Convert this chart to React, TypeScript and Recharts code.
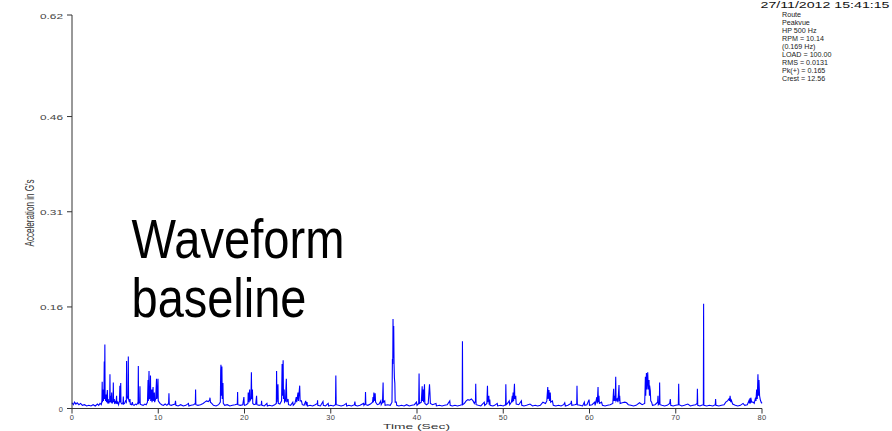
import React from "react"
import { LineChart, Line, XAxis, YAxis } from "recharts"

// Peakvue acceleration waveform, [seconds, G's] pairs in 10 s windows
const sec0to10: [number, number][] = [
  [0, 0.009], [0.15, 0.006], [0.3, 0.01], [0.45, 0.007], [0.6, 0.009], [0.8, 0.006], [1.0, 0.008],
  [1.2, 0.005], [1.45, 0.006], [1.7, 0.004], [1.95, 0.005], [2.2, 0.004], [2.45, 0.006], [2.7, 0.004],
  [2.95, 0.007], [3.1, 0.005], [3.25, 0.008], [3.4, 0.006], [3.47, 0.012], [3.5, 0.042], [3.53, 0.01],
  [3.6, 0.03], [3.64, 0.012], [3.7, 0.02], [3.74, 0.074], [3.77, 0.015], [3.81, 0.101], [3.84, 0.02],
  [3.9, 0.012], [3.95, 0.022], [4.0, 0.01], [4.1, 0.029], [4.14, 0.008], [4.2, 0.015], [4.25, 0.008],
  [4.37, 0.012], [4.4, 0.054], [4.43, 0.01], [4.5, 0.02], [4.55, 0.009], [4.6, 0.025], [4.64, 0.008],
  [4.76, 0.012], [4.79, 0.041], [4.82, 0.01], [4.9, 0.015], [4.95, 0.007], [5.05, 0.012], [5.1, 0.008],
  [5.17, 0.02], [5.2, 0.007], [5.3, 0.01], [5.4, 0.006], [5.5, 0.012], [5.55, 0.036], [5.58, 0.01],
  [5.65, 0.04], [5.68, 0.009], [5.8, 0.007], [5.92, 0.01], [5.95, 0.019], [5.98, 0.007], [6.1, 0.008],
  [6.2, 0.012], [6.3, 0.01], [6.33, 0.075], [6.36, 0.02], [6.5, 0.015], [6.53, 0.082], [6.56, 0.015],
  [6.65, 0.01], [6.72, 0.015], [6.76, 0.007], [6.9, 0.006], [7.0, 0.01], [7.05, 0.006], [7.2, 0.005],
  [7.35, 0.007], [7.5, 0.006], [7.66, 0.01], [7.69, 0.067], [7.72, 0.008], [7.85, 0.01], [7.88, 0.035],
  [7.91, 0.007], [8.05, 0.006], [8.25, 0.005], [8.45, 0.007], [8.6, 0.006], [8.75, 0.01], [8.82, 0.045],
  [8.85, 0.012], [8.93, 0.059], [8.96, 0.015], [9.05, 0.018], [9.1, 0.052], [9.13, 0.012], [9.25, 0.03],
  [9.28, 0.01], [9.4, 0.034], [9.43, 0.012], [9.55, 0.025], [9.58, 0.01], [9.7, 0.015], [9.8, 0.047],
  [9.83, 0.015], [9.9, 0.02], [9.97, 0.047], [10.0, 0.012],
]

const sec10to20: [number, number][] = [
  [10.2, 0.008], [10.4, 0.006], [10.6, 0.005], [10.8, 0.007], [11.0, 0.005], [11.2, 0.008], [11.24, 0.024],
  [11.28, 0.006], [11.5, 0.005], [11.7, 0.006], [11.95, 0.007], [12.0, 0.012], [12.05, 0.005], [12.3, 0.004],
  [12.6, 0.006], [12.9, 0.004], [13.2, 0.005], [13.5, 0.008], [13.55, 0.004], [13.8, 0.005], [14.1, 0.006],
  [14.3, 0.008], [14.33, 0.03], [14.36, 0.006], [14.6, 0.005], [14.9, 0.006], [15.2, 0.008], [15.4, 0.01],
  [15.6, 0.012], [15.8, 0.011], [15.95, 0.013], [16.0, 0.017], [16.05, 0.01], [16.2, 0.008], [16.4, 0.005],
  [16.7, 0.004], [17.0, 0.006], [17.2, 0.01], [17.24, 0.06], [17.27, 0.069], [17.31, 0.02], [17.38, 0.066],
  [17.42, 0.015], [17.5, 0.04], [17.54, 0.008], [17.7, 0.005], [18.0, 0.006], [18.3, 0.004], [18.6, 0.005],
  [18.9, 0.006], [19.17, 0.007], [19.2, 0.026], [19.23, 0.006], [19.5, 0.005], [19.8, 0.006], [19.93, 0.018],
  [19.97, 0.006], [20.0, 0.005],
]

const sec20to30: [number, number][] = [
  [20.2, 0.006], [20.4, 0.008], [20.43, 0.025], [20.47, 0.01], [20.6, 0.03], [20.63, 0.012], [20.75, 0.015],
  [20.8, 0.057], [20.84, 0.015], [20.92, 0.03], [20.96, 0.008], [21.1, 0.006], [21.3, 0.007], [21.4, 0.02],
  [21.44, 0.006], [21.7, 0.005], [21.95, 0.006], [21.98, 0.012], [22.02, 0.005], [22.3, 0.004], [22.6, 0.008],
  [22.65, 0.004], [22.9, 0.005], [23.2, 0.004], [23.5, 0.006], [23.69, 0.008], [23.72, 0.059], [23.76, 0.01],
  [23.88, 0.038], [23.92, 0.008], [24.1, 0.007], [24.3, 0.012], [24.36, 0.07], [24.4, 0.02], [24.48, 0.076],
  [24.52, 0.015], [24.6, 0.03], [24.64, 0.01], [24.75, 0.012], [24.85, 0.047], [24.9, 0.01], [25.05, 0.015],
  [25.1, 0.006], [25.35, 0.005], [25.6, 0.01], [25.65, 0.005], [25.85, 0.008], [26.0, 0.018], [26.05, 0.01],
  [26.2, 0.025], [26.25, 0.012], [26.4, 0.036], [26.45, 0.012], [26.6, 0.012], [26.7, 0.006], [26.9, 0.005],
  [27.1, 0.012], [27.15, 0.005], [27.25, 0.01], [27.3, 0.004], [27.6, 0.005], [27.9, 0.004], [28.2, 0.006],
  [28.45, 0.008], [28.47, 0.013], [28.5, 0.005], [28.8, 0.004], [29.1, 0.011], [29.14, 0.005], [29.4, 0.004],
  [29.7, 0.008], [29.75, 0.004], [30.0, 0.005],
]

const sec30to40: [number, number][] = [
  [30.3, 0.004], [30.55, 0.006], [30.59, 0.052], [30.63, 0.006], [30.9, 0.005], [31.2, 0.004], [31.5, 0.005],
  [31.8, 0.008], [31.85, 0.004], [32.1, 0.005], [32.4, 0.004], [32.75, 0.006], [32.8, 0.011], [32.85, 0.005],
  [33.1, 0.004], [33.4, 0.005], [33.8, 0.008], [33.85, 0.005], [34.0, 0.008], [34.03, 0.026], [34.07, 0.006],
  [34.3, 0.005], [34.6, 0.007], [34.85, 0.01], [34.9, 0.018], [34.95, 0.01], [35.0, 0.025], [35.05, 0.012],
  [35.15, 0.024], [35.2, 0.01], [35.4, 0.006], [35.6, 0.007], [35.8, 0.012], [35.85, 0.006], [36.0, 0.01],
  [36.07, 0.041], [36.1, 0.01], [36.26, 0.012], [36.3, 0.005], [36.6, 0.006], [36.9, 0.005], [37.1, 0.01],
  [37.15, 0.078], [37.19, 0.07], [37.22, 0.141], [37.26, 0.08], [37.3, 0.13], [37.34, 0.07], [37.38, 0.048],
  [37.43, 0.04], [37.47, 0.01], [37.6, 0.01], [37.65, 0.005], [37.9, 0.004], [38.2, 0.005], [38.5, 0.004],
  [38.8, 0.006], [39.1, 0.004], [39.4, 0.005], [39.7, 0.006], [39.94, 0.01], [40.0, 0.005],
]

const sec40to50: [number, number][] = [
  [40.2, 0.008], [40.24, 0.055], [40.28, 0.008], [40.5, 0.01], [40.6, 0.035], [40.64, 0.012], [40.72, 0.03],
  [40.76, 0.01], [40.87, 0.038], [40.91, 0.008], [41.1, 0.006], [41.3, 0.008], [41.45, 0.038], [41.5, 0.025],
  [41.55, 0.008], [41.8, 0.006], [42.2, 0.008], [42.25, 0.004], [42.6, 0.005], [42.9, 0.004], [43.2, 0.005],
  [43.5, 0.006], [43.8, 0.012], [43.85, 0.005], [44.1, 0.004], [44.4, 0.005], [44.7, 0.004], [45.0, 0.005],
  [45.24, 0.006], [45.27, 0.106], [45.3, 0.006], [45.5, 0.008], [45.7, 0.012], [45.9, 0.014], [46.1, 0.013],
  [46.3, 0.015], [46.5, 0.012], [46.65, 0.008], [46.78, 0.012], [46.81, 0.039], [46.85, 0.006], [47.1, 0.005],
  [47.4, 0.004], [47.8, 0.01], [47.85, 0.005], [48.1, 0.008], [48.17, 0.036], [48.21, 0.01], [48.33, 0.02],
  [48.37, 0.006], [48.44, 0.014], [48.48, 0.005], [48.8, 0.004], [49.0, 0.005], [49.3, 0.008], [49.35, 0.004],
  [49.7, 0.005], [50.0, 0.004],
]

const sec50to60: [number, number][] = [
  [50.27, 0.006], [50.3, 0.038], [50.34, 0.006], [50.5, 0.008], [50.7, 0.012], [50.75, 0.006], [50.95, 0.01],
  [51.05, 0.02], [51.1, 0.01], [51.14, 0.025], [51.2, 0.012], [51.3, 0.039], [51.34, 0.015], [51.45, 0.02],
  [51.5, 0.007], [51.8, 0.006], [52.1, 0.012], [52.15, 0.005], [52.4, 0.004], [52.7, 0.005], [53.1, 0.007],
  [53.4, 0.004], [53.7, 0.005], [54.0, 0.004], [54.3, 0.005], [54.6, 0.01], [54.9, 0.008], [55.05, 0.012],
  [55.16, 0.034], [55.2, 0.015], [55.3, 0.029], [55.36, 0.012], [55.45, 0.025], [55.5, 0.01], [55.7, 0.012],
  [55.8, 0.005], [56.1, 0.004], [56.4, 0.005], [56.7, 0.004], [57.0, 0.006], [57.13, 0.009], [57.2, 0.004],
  [57.5, 0.005], [57.85, 0.008], [57.9, 0.012], [57.95, 0.005], [58.3, 0.006], [58.52, 0.007], [58.55, 0.036],
  [58.59, 0.006], [58.9, 0.005], [59.2, 0.004], [59.4, 0.01], [59.45, 0.005], [59.7, 0.006], [59.95, 0.014],
  [60.0, 0.005],
]

const sec60to70: [number, number][] = [
  [60.3, 0.006], [60.6, 0.01], [60.65, 0.005], [60.85, 0.018], [60.9, 0.008], [60.99, 0.034], [61.03, 0.01],
  [61.1, 0.02], [61.15, 0.008], [61.4, 0.01], [61.5, 0.005], [61.8, 0.004], [62.1, 0.005], [62.4, 0.006],
  [62.7, 0.008], [62.8, 0.031], [62.84, 0.012], [62.9, 0.02], [62.98, 0.012], [63.04, 0.05], [63.08, 0.012],
  [63.2, 0.015], [63.3, 0.01], [63.42, 0.037], [63.46, 0.012], [63.5, 0.02], [63.55, 0.008], [63.8, 0.009],
  [64.1, 0.01], [64.3, 0.009], [64.5, 0.006], [64.8, 0.005], [65.1, 0.004], [65.4, 0.005], [65.8, 0.009],
  [66.1, 0.006], [66.4, 0.008], [66.48, 0.05], [66.52, 0.02], [66.6, 0.056], [66.65, 0.03], [66.75, 0.057],
  [66.82, 0.03], [66.9, 0.045], [66.95, 0.02], [66.97, 0.036], [67.05, 0.028], [67.1, 0.012], [67.2, 0.01],
  [67.3, 0.005], [67.6, 0.006], [67.9, 0.01], [67.94, 0.02], [67.98, 0.006], [68.1, 0.008], [68.13, 0.041],
  [68.17, 0.006], [68.4, 0.005], [68.7, 0.004], [69.0, 0.005], [69.3, 0.008], [69.37, 0.015], [69.42, 0.005],
  [69.7, 0.004], [70.0, 0.005],
]

const sec70to80: [number, number][] = [
  [70.3, 0.006], [70.34, 0.039], [70.38, 0.006], [70.7, 0.004], [71.0, 0.005], [71.4, 0.007], [71.7, 0.004],
  [72.0, 0.005], [72.3, 0.006], [72.48, 0.008], [72.51, 0.031], [72.55, 0.005], [72.8, 0.004], [73.0, 0.005],
  [73.2, 0.006], [73.23, 0.165], [73.26, 0.005], [73.6, 0.004], [73.9, 0.005], [74.3, 0.004], [74.58, 0.006],
  [74.62, 0.015], [74.66, 0.005], [75.0, 0.004], [75.3, 0.005], [75.6, 0.006], [75.8, 0.01], [76.0, 0.012],
  [76.17, 0.015], [76.25, 0.012], [76.3, 0.02], [76.38, 0.01], [76.45, 0.013], [76.6, 0.007], [76.9, 0.005],
  [77.2, 0.004], [77.5, 0.005], [77.8, 0.008], [78.0, 0.005], [78.3, 0.006], [78.48, 0.012], [78.55, 0.008],
  [78.6, 0.016], [78.65, 0.008], [78.7, 0.017], [78.8, 0.01], [78.97, 0.01], [79.1, 0.008], [79.25, 0.017],
  [79.3, 0.012], [79.38, 0.03], [79.45, 0.015], [79.53, 0.054], [79.58, 0.02], [79.65, 0.045], [79.72, 0.02],
  [79.8, 0.014], [79.9, 0.01], [80.0, 0.008],
]

const timeTicks = [0, 10, 20, 30, 40, 50, 60, 70, 80]
const accelTicks = [0, 0.16, 0.31, 0.46, 0.62]

const headerStamp = "27/11/2012 15:41:15"
const infoLines = [
  "Route",
  "Peakvue",
  "HP 500 Hz",
  "RPM = 10.14",
  "(0.169 Hz)",
  "LOAD = 100.00",
  "RMS = 0.0131",
  "Pk(+) = 0.165",
  "Crest = 12.56",
]

const data = [
  ...sec0to10, ...sec10to20, ...sec20to30, ...sec30to40,
  ...sec40to50, ...sec50to60, ...sec60to70, ...sec70to80,
].map(([t, g]) => ({ t, g }))

const FONT = "'Liberation Sans', Arial, Helvetica, sans-serif"
const AXIS = "#333"

function AccelTick({ x, y, payload }: any) {
  const label = String(payload.value)
  const wide = label.length > 1
  return (
    <text
      x={x}
      y={y + 3.5}
      textAnchor="end"
      fontFamily={FONT}
      fontSize={7.5}
      fill="#444"
      {...(wide ? { textLength: 23, lengthAdjust: "spacingAndGlyphs" } : {})}
    >
      {label}
    </text>
  )
}

function TimeTick({ x, y, payload }: any) {
  return (
    <text x={x} y={y + 4} textAnchor="middle" fontFamily={FONT} fontSize={7.5} fill="#444" letterSpacing={0.3}>
      {payload.value}
    </text>
  )
}

export default function App() {
  return (
    <div style={{ position: "absolute", left: 0, top: 0, width: 892, height: 431, background: "#fff" }}>
      <LineChart width={892} height={431} data={data} margin={{ top: 15, right: 130, bottom: 0, left: 0 }}>
        <XAxis
          dataKey="t"
          type="number"
          domain={[0, 80]}
          ticks={timeTicks}
          height={22.5}
          tickSize={5}
          tickMargin={2}
          stroke={AXIS}
          tick={<TimeTick />}
          interval={0}
        />
        <YAxis
          type="number"
          domain={[0, 0.62]}
          ticks={accelTicks}
          width={72}
          tickSize={5}
          tickMargin={4}
          stroke={AXIS}
          tick={<AccelTick />}
          interval={0}
          allowDataOverflow
        />
        <Line
          type="linear"
          dataKey="g"
          stroke="#0000ff"
          strokeWidth={1.1}
          dot={false}
          activeDot={false}
          isAnimationActive={false}
        />
      </LineChart>

      {/* annotations: axis titles, timestamp block and overlay caption */}
      <svg
        width={892}
        height={431}
        style={{ position: "absolute", left: 0, top: 0, pointerEvents: "none" }}
        fontFamily={FONT}
      >
        <text
          x={0}
          y={0}
          transform="translate(34 213) rotate(-90)"
          textAnchor="middle"
          fontSize={13}
          fill="#333"
          textLength={67}
          lengthAdjust="spacingAndGlyphs"
        >
          Acceleration in G's
        </text>
        <text
          x={416.5}
          y={429}
          textAnchor="middle"
          fontSize={8}
          fill="#333"
          textLength={67}
          lengthAdjust="spacingAndGlyphs"
        >
          Time (Sec)
        </text>

        <text x={760.5} y={7.5} fontSize={8.5} fill="#111" textLength={129} lengthAdjust="spacingAndGlyphs">
          {headerStamp}
        </text>
        <g transform="translate(782 0) scale(1.12 1)">
          {infoLines.map((line, i) => (
            <text key={line} x={0} y={16.7 + i * 8.05} fontSize={6.4} fill="#222">
              {line}
            </text>
          ))}
        </g>

        <text x={131.5} y={258.3} fontSize={56} fill="#000" textLength={213} lengthAdjust="spacingAndGlyphs">
          Waveform
        </text>
        <text x={131.5} y={316.7} fontSize={56} fill="#000" textLength={175} lengthAdjust="spacingAndGlyphs">
          baseline
        </text>
      </svg>
    </div>
  )
}
